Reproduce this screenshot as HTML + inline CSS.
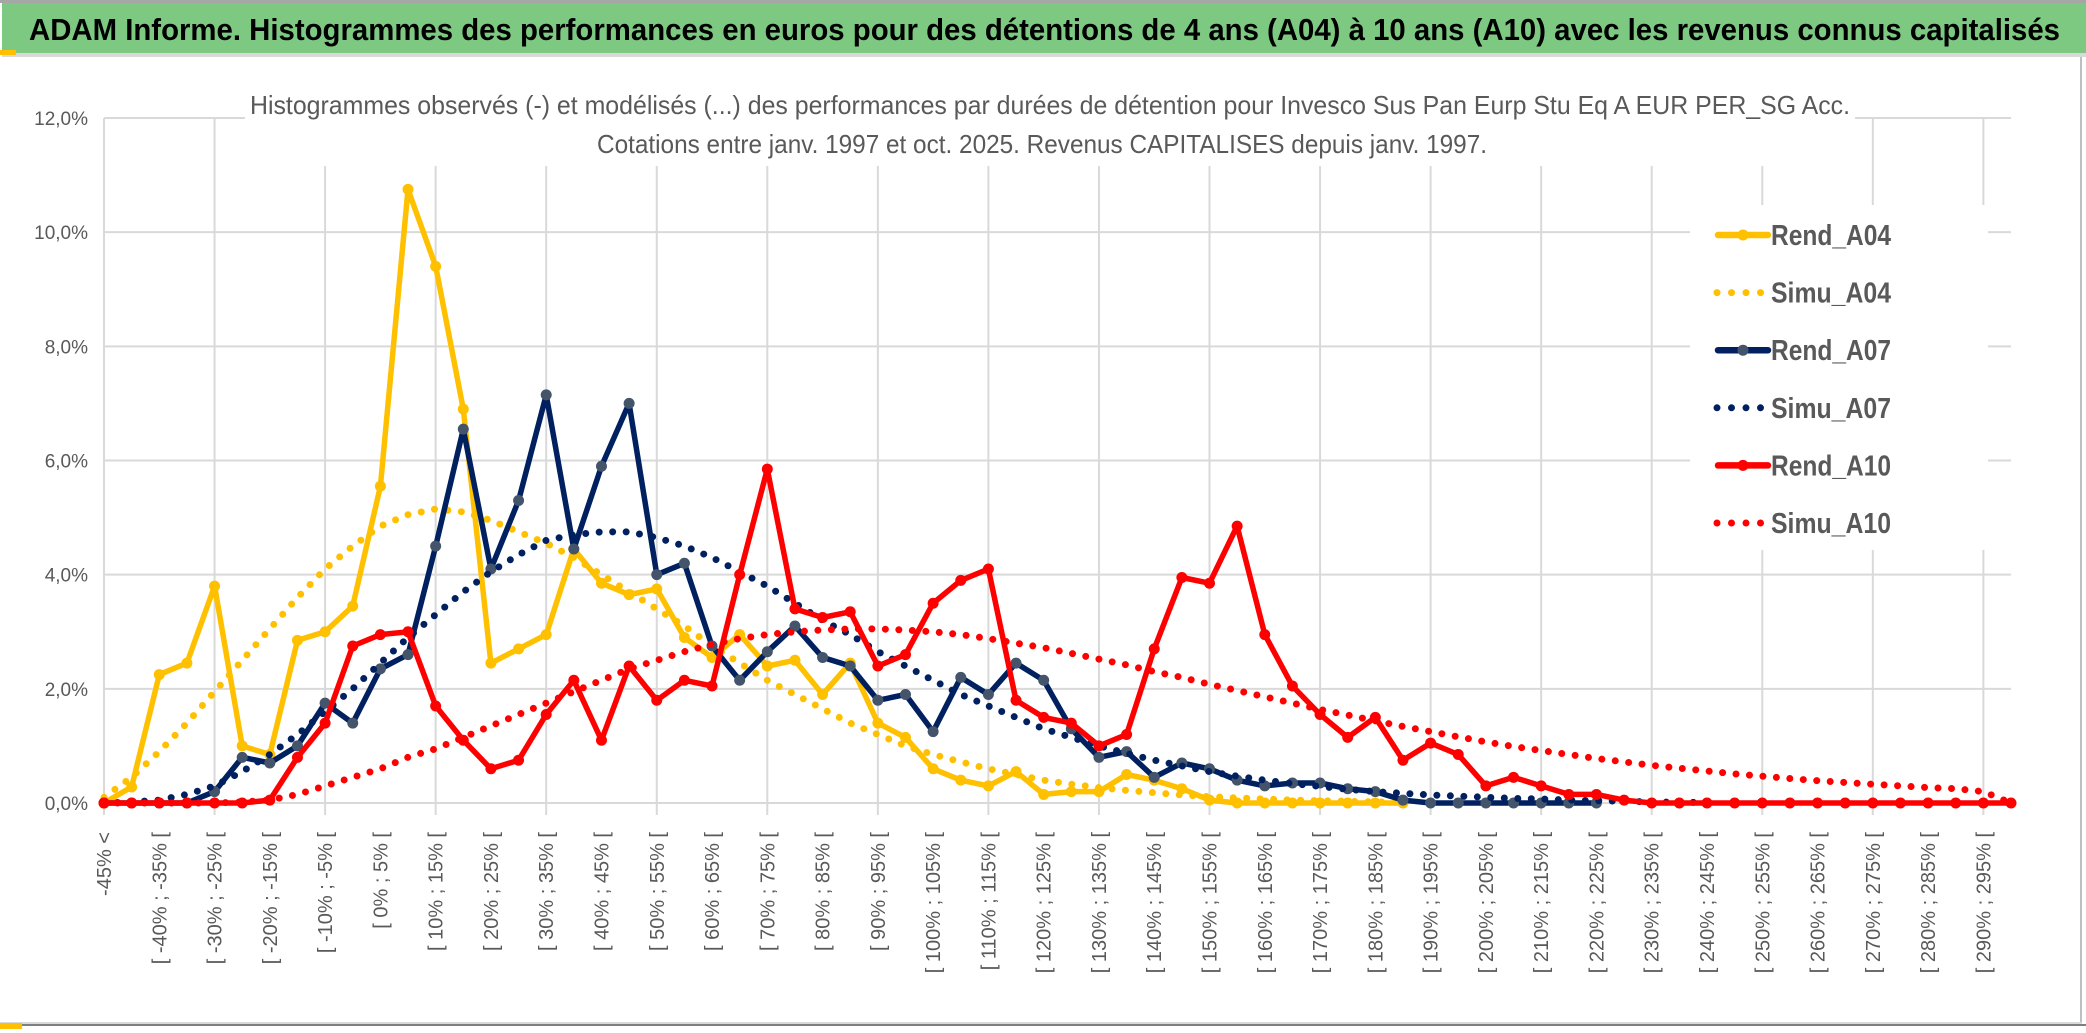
<!DOCTYPE html>
<html><head><meta charset="utf-8"><style>
html,body{margin:0;padding:0;background:#fff;}
svg{display:block;font-family:"Liberation Sans",sans-serif;}
</style></head><body>
<svg id="chart" width="2086" height="1033" viewBox="0 0 2086 1033" xmlns="http://www.w3.org/2000/svg">
<rect x="0" y="0" width="2086" height="1033" fill="#fff"/>
<rect x="0" y="0" width="2086" height="3" fill="#a6a6a6"/>
<rect x="2" y="3" width="2084" height="50" fill="#7dc982"/>
<rect x="2" y="53" width="2084" height="4" fill="#d9d9d9"/>
<rect x="0" y="50" width="16" height="5" fill="#ffc000"/>
<text x="29" y="40" font-size="31" font-weight="bold" fill="#000" textLength="2031" lengthAdjust="spacingAndGlyphs">ADAM Informe. Histogrammes des performances en euros pour des détentions de 4 ans (A04) à 10 ans (A10) avec les revenus connus capitalisés</text>
<rect x="2080" y="57" width="2" height="966" fill="#bfbfbf"/>
<rect x="0" y="1022" width="2082" height="2" fill="#d9d9d9"/>
<rect x="0" y="1024" width="2086" height="2" fill="#7f7f7f"/>
<rect x="0" y="1023" width="22" height="6" fill="#ffc000"/>
<g id="grid"></g>
<g id="yaxis"></g>
<g id="xaxis"></g>
<rect x="245" y="82" width="1610" height="84" fill="#fff"/>
<text x="1050" y="114" font-size="26" fill="#595959" text-anchor="middle" textLength="1600" lengthAdjust="spacingAndGlyphs">Histogrammes observés (-) et modélisés (...) des performances par durées de détention pour Invesco Sus Pan Eurp Stu Eq A EUR PER_SG Acc.</text>
<text x="1042" y="153" font-size="26" fill="#595959" text-anchor="middle" textLength="890" lengthAdjust="spacingAndGlyphs">Cotations entre janv. 1997 et oct. 2025. Revenus CAPITALISES depuis janv. 1997.</text>
<g id="series"></g>
<rect x="1690" y="205" width="298" height="345" fill="#fff"/>
<g id="legend"></g>
</svg>
<script>
const rendA04 = [0,0.28,2.25,2.45,3.8,1.0,0.85,2.85,3.0,3.45,5.55,10.75,9.4,6.9,2.45,2.7,2.95,4.45,3.85,3.65,3.75,2.9,2.55,2.95,2.4,2.5,1.9,2.45,1.4,1.15,0.6,0.4,0.3,0.55,0.15,0.2,0.2,0.5,0.4,0.25,0.05,0,0,0,0,0,0,0];
const simuA04 = [0.1,0.45,0.9,1.4,1.95,2.5,3.05,3.6,4.1,4.5,4.85,5.05,5.15,5.1,4.95,4.75,4.55,4.3,4.0,3.7,3.4,3.1,2.75,2.45,2.15,1.9,1.65,1.4,1.2,1.0,0.85,0.72,0.6,0.5,0.4,0.33,0.27,0.22,0.18,0.14,0.11,0.09,0.07,0.05,0.04,0.03,0.02,0.01];
const rendA07 = [0,0,0,0,0.2,0.8,0.7,1.0,1.75,1.4,2.35,2.6,4.5,6.55,4.1,5.3,7.15,4.45,5.9,7.0,4.0,4.2,2.75,2.15,2.65,3.1,2.55,2.4,1.8,1.9,1.25,2.2,1.9,2.45,2.15,1.3,0.8,0.9,0.45,0.7,0.6,0.4,0.3,0.35,0.35,0.25,0.2,0.05,0,0,0,0,0,0,0];
const simuA07 = [0,0.02,0.05,0.15,0.3,0.55,0.85,1.2,1.6,2.0,2.45,2.9,3.3,3.7,4.05,4.35,4.6,4.7,4.75,4.75,4.65,4.5,4.3,4.05,3.8,3.5,3.2,2.95,2.65,2.4,2.15,1.9,1.7,1.5,1.3,1.15,1.0,0.87,0.75,0.65,0.55,0.47,0.4,0.34,0.29,0.24,0.2,0.17,0.14,0.12,0.1,0.08,0.07,0.05,0.04,0.03,0.02,0.01,0.01];
const rendA10 = [0,0,0,0,0,0,0.05,0.8,1.4,2.75,2.95,3.0,1.7,1.1,0.6,0.75,1.55,2.15,1.1,2.4,1.8,2.15,2.05,4.0,5.85,3.4,3.25,3.35,2.4,2.6,3.5,3.9,4.1,1.8,1.5,1.4,1.0,1.2,2.7,3.95,3.85,4.85,2.95,2.05,1.55,1.15,1.5,0.75,1.05,0.85,0.3,0.45,0.3,0.15,0.15,0.05,0,0,0,0,0,0,0,0,0,0,0,0,0,0];
const simuA10 = [0,0,0,0,0,0.02,0.05,0.15,0.3,0.45,0.6,0.8,0.95,1.15,1.35,1.55,1.75,1.95,2.15,2.35,2.5,2.65,2.78,2.88,2.95,3.0,3.03,3.05,3.05,3.03,3.0,2.95,2.88,2.8,2.72,2.62,2.52,2.42,2.3,2.2,2.08,1.97,1.86,1.75,1.64,1.54,1.44,1.34,1.25,1.16,1.07,0.99,0.92,0.85,0.78,0.72,0.66,0.61,0.56,0.51,0.47,0.43,0.39,0.36,0.33,0.3,0.27,0.25,0.2,0.0];
const lowerBounds = [-45,-40,-35,-30,-25,-20,-15,-10,-5,0,5,10,15,20,25,30,35,40,45,50,55,60,65,70,75,80,85,90,95,100,105,110,115,120,125,130,135,140,145,150,155,160,165,170,175,180,185,190,195,200,205,210,215,220,225,230,235,240,245,250,255,260,265,270,275,280,285,290,295];
const yTicks = [0,2,4,6,8,10,12];

const NS = "http://www.w3.org/2000/svg";
const X0 = 104, X1 = 2011, Y0 = 803, YTOP = 118, YMAX = 12;
const nCat = lowerBounds.length + 1;
const categories = ["-45% <"];
for (const lb of lowerBounds) categories.push("[ " + lb + "% ; " + (lb + 5) + "% [");
function xs(i){ return X0 + i * (X1 - X0) / (nCat - 1); }
function ys(v){ return Y0 - v / YMAX * (Y0 - YTOP); }
function mk(tag, attrs, parent){ const e = document.createElementNS(NS, tag); for (const k in attrs) e.setAttribute(k, attrs[k]); parent.appendChild(e); return e; }

const grid = document.getElementById('grid');
for (const t of yTicks) {
  const l = mk('line', {x1:X0, x2:X1, y1:ys(t), y2:ys(t), stroke:'#d9d9d9', 'stroke-width':2}, grid);
  
  
}
for (let i = 0; i < nCat; i += 4) {
  const l = mk('line', {x1:xs(i), x2:xs(i), y1:YTOP, y2:Y0 + 12, stroke:'#d9d9d9', 'stroke-width':2}, grid);
  
  
}
const yaxis = document.getElementById('yaxis');
for (const t of yTicks) {
  const tx = mk('text', {x:88, y:ys(t) + 7, 'font-size':19, fill:'#595959', 'text-anchor':'end'}, yaxis);
  tx.textContent = t.toFixed(1).replace('.', ',') + '%';
  
  
}
const xaxis = document.getElementById('xaxis');
for (let i = 0; i < nCat; i += 2) {
  const x = xs(i) + 7, y = 832;
  const tx = mk('text', {x:x, y:y, 'font-size':20, fill:'#595959', 'text-anchor':'end', transform:'rotate(-90 ' + x + ' ' + y + ')'}, xaxis);
  tx.textContent = categories[i];
  
  
}

const series = document.getElementById('series');
function pts(arr){ return arr.map((v, i) => xs(i).toFixed(1) + ',' + ys(v).toFixed(1)).join(' '); }
function solid(arr, color, mcolor, name){
  const g = mk('g', {}, series);
  
  
  mk('polyline', {points:pts(arr), fill:'none', stroke:color, 'stroke-width':5.5, 'stroke-linejoin':'round'}, g);
  arr.forEach((v, i) => {
    const c = mk('circle', {cx:xs(i), cy:ys(v), r:5.5, fill:mcolor}, g);
    
    
  });
}
function dotted(arr, color, name){
  const p = mk('polyline', {points:pts(arr), fill:'none', stroke:color, 'stroke-width':7, 'stroke-linecap':'round', 'stroke-dasharray':'0 13.5'}, series);
  
  
}
solid(rendA04, '#ffc000', '#ffc000', 'rend-a04-line');
dotted(simuA04, '#ffc000', 'simu-a04-line');
solid(rendA07, '#002060', '#44546a', 'rend-a07-line');
dotted(simuA07, '#002060', 'simu-a07-line');
solid(rendA10, '#ff0000', '#ff0000', 'rend-a10-line');
dotted(simuA10, '#ff0000', 'simu-a10-line');

const legend = document.getElementById('legend');
const legItems = [['Rend_A04','#ffc000','#ffc000',false],['Simu_A04','#ffc000','#ffc000',true],['Rend_A07','#002060','#44546a',false],['Simu_A07','#002060','#002060',true],['Rend_A10','#ff0000','#ff0000',false],['Simu_A10','#ff0000','#ff0000',true]];
legItems.forEach((it, k) => {
  const y = 235 + k * 57.6;
  const g = mk('g', {}, legend);
  
  
  if (it[3]) {
    mk('line', {x1:1717, x2:1765, y1:y, y2:y, stroke:it[1], 'stroke-width':7, 'stroke-linecap':'round', 'stroke-dasharray':'0 14.5'}, g);
  } else {
    mk('line', {x1:1718, x2:1768, y1:y, y2:y, stroke:it[1], 'stroke-width':6.5, 'stroke-linecap':'round'}, g);
    mk('circle', {cx:1743, cy:y, r:5.5, fill:it[2]}, g);
  }
  const t = mk('text', {x:1771, y:y + 10, 'font-size':29, fill:'#595959', 'font-weight':'bold', textLength:120, lengthAdjust:'spacingAndGlyphs'}, g);
  t.textContent = it[0];
});
</script>
</body></html>
